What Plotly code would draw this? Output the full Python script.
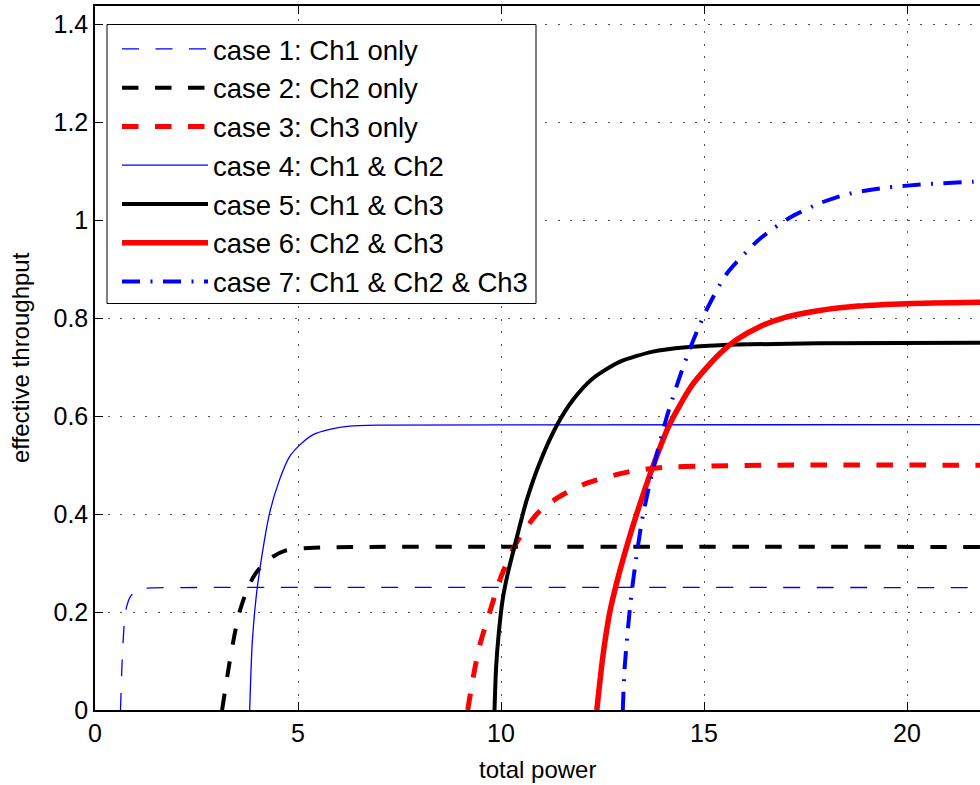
import plotly.graph_objects as go

# ---- data ----
case1_x = [0.628, 0.67, 0.727, 0.78, 0.867, 1.05, 1.26, 2.0, 22]
case1_y = [0, 0.102, 0.184, 0.211, 0.231, 0.2465, 0.249, 0.25, 0.25]

case2_x = [3.13, 3.30, 3.44, 3.56, 3.72, 3.89, 4.05, 4.38, 4.67, 5.28, 6.76, 22]
case2_y = [0, 0.09, 0.155, 0.2, 0.24, 0.27, 0.289, 0.313, 0.325, 0.331, 0.333, 0.333]

case3_x = [9.18, 9.30, 9.47, 9.76, 10.0, 10.37, 10.78, 11.0, 11.44, 12.1, 13.17, 14.07, 14.89, 16.5, 22]
case3_y = [0, 0.06, 0.13, 0.21, 0.272, 0.34, 0.39, 0.41, 0.436, 0.463, 0.487, 0.496, 0.498, 0.5, 0.5]

case4_x = [3.81, 3.872, 3.97, 4.094, 4.30, 4.544, 4.79, 5.04, 5.36, 5.78, 6.27, 7.0, 22]
case4_y = [0, 0.136, 0.231, 0.306, 0.402, 0.470, 0.517, 0.541, 0.562, 0.573, 0.580, 0.582, 0.583]

case5_x = [9.84, 9.88, 9.945, 10.04, 10.17, 10.33, 10.62, 10.95, 11.36, 11.77, 12.26, 12.92, 13.74, 14.56, 15.38, 17.85, 22]
case5_y = [0, 0.088, 0.157, 0.225, 0.28, 0.333, 0.425, 0.504, 0.579, 0.633, 0.677, 0.711, 0.732, 0.741, 0.745, 0.749, 0.75]

case6_x = [12.36, 12.51, 12.68, 12.85, 13.1, 13.36, 13.74, 14.15, 14.72, 15.38, 15.8, 16.37, 17.0, 17.85, 18.8, 20.0, 22]
case6_y = [0, 0.11, 0.2, 0.26, 0.335, 0.405, 0.497, 0.583, 0.665, 0.727, 0.756, 0.783, 0.802, 0.816, 0.825, 0.83, 0.833]

case7_x = [13.0, 13.04, 13.12, 13.21, 13.33, 13.49, 13.74, 14.07, 14.4, 14.64, 14.85, 15.05, 15.55, 16.37, 17.1, 17.85, 18.5, 19.4, 20.47, 21.6, 22]
case7_y = [0, 0.08, 0.16, 0.235, 0.31, 0.395, 0.49, 0.595, 0.68, 0.735, 0.778, 0.815, 0.89, 0.962, 1.005, 1.035, 1.053, 1.066, 1.074, 1.079, 1.08]

names = ["case 1: Ch1 only", "case 2: Ch2 only", "case 3: Ch3 only",
         "case 4: Ch1 & Ch2", "case 5: Ch1 & Ch3", "case 6: Ch2 & Ch3",
         "case 7: Ch1 & Ch2 & Ch3"]
x_ticks = [0, 5, 10, 15, 20]
y_ticks = [0, 0.2, 0.4, 0.6, 0.8, 1.0, 1.2, 1.4]
y_tick_labels = ["0", "0.2", "0.4", "0.6", "0.8", "1", "1.2", "1.4"]

xs = [case1_x, case2_x, case3_x, case4_x, case5_x, case6_x, case7_x]
ys = [case1_y, case2_y, case3_y, case4_y, case5_y, case6_y, case7_y]
colors = ["#0000ff", "#000000", "#ff0000", "#0000ff", "#000000", "#ff0000", "#0000ff"]
widths = [1.3, 4, 5, 1.3, 4, 5.5, 4]
dashes = ["17px,16.5px", "16.5px,16.5px", "16.5px,16.5px", "solid", "solid", "solid",
          "18px,10.5px,2px,10.5px"]

FONT = "Liberation Sans, Arial, Helvetica, sans-serif"

fig = go.Figure()
for i in range(7):
    fig.add_trace(go.Scatter(
        x=xs[i], y=ys[i], mode="lines", name=names[i],
        legendgroup="g%d" % i,
        line=dict(color=colors[i], width=widths[i], dash=dashes[i],
                  shape="spline", smoothing=0.7),
    ))

W, H = 980, 785
ml, mr, mt, mb = 95, 0, 6, 75
pw, ph = W - ml - mr, H - mt - mb


def px_x(p):
    return (p - ml) / pw


def px_y(p):
    return (H - mb - p) / ph


fig.update_layout(
    width=W, height=H,
    margin=dict(l=ml, r=mr, t=mt, b=mb),
    paper_bgcolor="white", plot_bgcolor="white",
    font=dict(family=FONT, size=25, color="black"),
    showlegend=True,
    legend=dict(
        x=px_x(117), y=px_y(24.5),
        xanchor="left", yanchor="top",
        bgcolor="rgba(0,0,0,0)", borderwidth=0,
        font=dict(family=FONT, size=27.5, color="black"),
        itemwidth=86, tracegroupgap=0,
    ),
    shapes=[
        dict(type="rect", xref="paper", yref="paper",
             x0=px_x(107), x1=px_x(536), y0=px_y(303.5), y1=px_y(24.5),
             fillcolor="white", line=dict(color="black", width=1), layer="above"),
    ],
    xaxis=dict(
        range=[0, pw / 40.6],
        tickvals=x_ticks,
        ticks="inside", ticklen=8, tickwidth=1, tickcolor="black",
        showline=True, linecolor="black", linewidth=1.5, mirror="ticks",
        showgrid=True, gridcolor="#555555", gridwidth=1, griddash="2px,10.5px",
        zeroline=False, automargin=False,
        tickfont=dict(size=25),
    ),
    yaxis=dict(
        range=[0, ph / 489.6],
        tickvals=y_ticks, ticktext=y_tick_labels,
        ticks="inside", ticklen=8, tickwidth=1, tickcolor="black",
        showline=True, linecolor="black", linewidth=1.5, mirror=False,
        showgrid=True, gridcolor="#555555", gridwidth=1, griddash="2px,10.5px",
        zeroline=False, automargin=False,
        tickfont=dict(size=25),
    ),
    annotations=[
        dict(text="total power", xref="paper", yref="paper",
             x=0.5, y=px_y(769), xanchor="center", yanchor="middle",
             showarrow=False, font=dict(size=24)),
        dict(text="effective throughput", xref="paper", yref="paper",
             x=px_x(20), y=px_y(358), xanchor="center", yanchor="middle",
             textangle=-90, showarrow=False, font=dict(size=24)),
    ],
)

fig.write_html("out.html",
               config={"displayModeBar": False},
               post_script="document.body.style.margin='0px';document.body.style.overflow='hidden';")
